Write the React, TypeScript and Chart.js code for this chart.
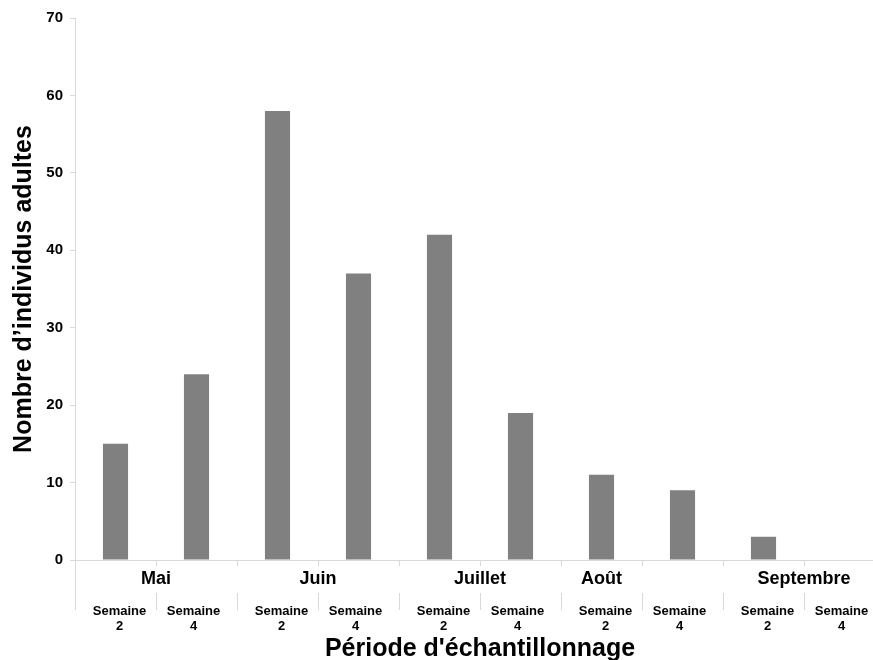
import React, { useEffect, useRef } from 'react';
import { Chart, registerables } from 'chart.js';

Chart.register(...registerables);

const weekCategories = [
  'Mai S2', 'Mai S4', 'Juin S2', 'Juin S4', 'Juillet S2',
  'Juillet S4', 'Août S2', 'Août S4', 'Septembre S2', 'Septembre S4',
];
const weekLabels = [
  ['Semaine', '2'], ['Semaine', '4'], ['Semaine', '2'], ['Semaine', '4'], ['Semaine', '2'],
  ['Semaine', '4'], ['Semaine', '2'], ['Semaine', '4'], ['Semaine', '2'], ['Semaine', '4'],
];
const months = ['Mai', 'Juin', 'Juillet', 'Août', 'Septembre'];
// category index (fractional) over which each month label sits
const monthLabelAt = [0.5, 2.5, 4.5, 6, 8.5];
const adultCounts = [15, 24, 58, 37, 42, 19, 11, 9, 3, 0];
const yMin = 0;
const yMax = 70;
const yStep = 10;

const yTitle = 'Nombre d\u2019individus adultes';
const xTitle = "Période d'échantillonnage";

const FONT = '"Liberation Sans", Arial, Helvetica, sans-serif';
const AXIS_GRAY = '#d9d9d9';

const labelsPlugin = {
  id: 'twoLevelLabels',
  afterDraw(chart: any) {
    const ctx = chart.ctx;
    const xs = chart.scales.x;
    const { left, bottom } = chart.chartArea;
    ctx.save();
    ctx.strokeStyle = AXIS_GRAY;
    ctx.lineWidth = 1;
    ctx.beginPath();
    ctx.moveTo(Math.round(left) + 0.5, bottom);
    ctx.lineTo(Math.round(left) + 0.5, bottom + 50);
    ctx.stroke();
    for (let i = 0; i <= weekCategories.length; i++) {
      const px = Math.round(xs.getPixelForValue(i - 0.5)) + 0.5;
      ctx.beginPath();
      ctx.moveTo(px, bottom + 33);
      ctx.lineTo(px, bottom + 50);
      ctx.stroke();
    }
    ctx.fillStyle = '#000';
    ctx.textAlign = 'center';
    ctx.textBaseline = 'middle';
    ctx.font = `bold 18px ${FONT}`;
    months.forEach((m, i) => {
      ctx.fillText(m, xs.getPixelForValue(monthLabelAt[i]), bottom + 19);
    });
    ctx.font = `bold 13px ${FONT}`;
    weekLabels.forEach((lines, i) => {
      const px = xs.getPixelForValue(i) + (i % 2 === 0 ? 4 : -3);
      ctx.fillText(lines[0], px, bottom + 51);
      ctx.fillText(lines[1], px, bottom + 66);
    });
    ctx.restore();
  },
};

export default function App() {
  const ref = useRef<HTMLCanvasElement | null>(null);

  useEffect(() => {
    if (!ref.current) return;
    const chart = new Chart(ref.current, {
      type: 'bar',
      data: {
        labels: weekCategories,
        datasets: [
          {
            data: adultCounts,
            backgroundColor: '#808080',
            borderWidth: 0,
            categoryPercentage: 1,
            barPercentage: 0.31,
          },
        ],
      },
      options: {
        responsive: false,
        animation: false,
        layout: { padding: { top: 18, right: 15, bottom: 0, left: 0 } },
        plugins: {
          legend: { display: false },
          tooltip: { enabled: false },
        },
        scales: {
          x: {
            type: 'category',
            offset: true,
            ticks: { display: false },
            grid: {
              display: true,
              drawOnChartArea: false,
              offset: true,
              tickLength: 6,
              color: AXIS_GRAY,
            },
            border: { color: AXIS_GRAY },
            title: {
              display: true,
              text: xTitle,
              color: '#000',
              font: { family: FONT, size: 25, weight: 'bold' },
              padding: { top: 0, bottom: -4 },
            },
            afterFit(scale: any) {
              scale.height = 100;
            },
          },
          y: {
            min: yMin,
            max: yMax,
            ticks: {
              stepSize: yStep,
              color: '#000',
              padding: 7,
              font: { family: FONT, size: 15, weight: 'bold' },
            },
            grid: {
              drawOnChartArea: false,
              tickLength: 5,
              color: AXIS_GRAY,
            },
            border: { color: AXIS_GRAY },
            title: {
              display: true,
              text: yTitle,
              color: '#000',
              font: { family: FONT, size: 25, weight: 'bold' },
              padding: { top: 9, bottom: 0 },
            },
            afterFit(scale: any) {
              scale.width = 75;
            },
          },
        },
      },
      plugins: [labelsPlugin],
    } as any);
    return () => chart.destroy();
  }, []);

  return (
    <div
      style={{
        position: 'fixed',
        left: 0,
        top: 0,
        width: 873,
        height: 660,
        overflow: 'hidden',
        background: '#fff',
      }}
    >
      <canvas ref={ref} width={900} height={660} style={{ display: 'block' }} />
    </div>
  );
}
